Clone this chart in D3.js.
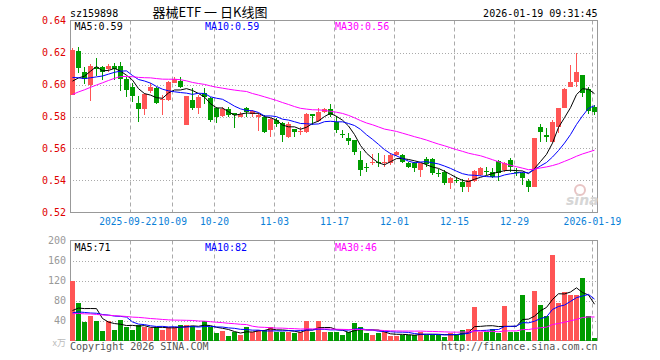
<!DOCTYPE html>
<html><head><meta charset="utf-8">
<script src="https://cdn.jsdelivr.net/npm/d3@7"></script>
<style>body{margin:0;background:#fff}svg{display:block}</style>
</head><body>
<svg id="c" width="660" height="360"></svg>
<script>
// ---------- data ----------
const dates = [
"2025-09-08","2025-09-09","2025-09-10","2025-09-11","2025-09-12","2025-09-15","2025-09-16","2025-09-17","2025-09-18","2025-09-19",
"2025-09-22","2025-09-23","2025-09-24","2025-09-25","2025-09-26","2025-09-29","2025-09-30","2025-10-09","2025-10-10","2025-10-13",
"2025-10-14","2025-10-15","2025-10-16","2025-10-17","2025-10-20","2025-10-21","2025-10-22","2025-10-23","2025-10-24","2025-10-27",
"2025-10-28","2025-10-29","2025-10-30","2025-10-31","2025-11-03","2025-11-04","2025-11-05","2025-11-06","2025-11-07","2025-11-10",
"2025-11-11","2025-11-12","2025-11-13","2025-11-14","2025-11-17","2025-11-18","2025-11-19","2025-11-20","2025-11-21","2025-11-24",
"2025-11-25","2025-11-26","2025-11-27","2025-11-28","2025-12-01","2025-12-02","2025-12-03","2025-12-04","2025-12-05","2025-12-08",
"2025-12-09","2025-12-10","2025-12-11","2025-12-12","2025-12-15","2025-12-16","2025-12-17","2025-12-18","2025-12-19","2025-12-22",
"2025-12-23","2025-12-24","2025-12-25","2025-12-26","2025-12-29","2025-12-30","2025-12-31","2026-01-05","2026-01-06","2026-01-07",
"2026-01-08","2026-01-09","2026-01-12","2026-01-13","2026-01-14","2026-01-15","2026-01-16","2026-01-19"];

const open = [0.5934,0.6209,0.6078,0.5997,0.6107,0.6107,0.6095,0.6116,0.6116,0.6032,
0.5982,0.5886,0.5849,0.5961,0.5981,0.5906,0.5905,0.6012,0.6022,0.5747,
0.5903,0.5851,0.5944,0.5914,0.5851,0.5803,0.5845,0.5820,0.5799,0.5855,
0.5816,0.5799,0.5799,0.5716,0.5778,0.5757,0.5672,0.5720,0.5703,0.5705,
0.5814,0.5774,0.5830,0.5845,0.5766,0.5689,0.5664,0.5655,0.5530,0.5482,
0.5514,0.5517,0.5514,0.5509,0.5562,0.5559,0.5511,0.5511,0.5466,0.5532,
0.5532,0.5447,0.5455,0.5386,0.5405,0.5392,0.5361,0.5399,0.5434,0.5461,
0.5455,0.5524,0.5466,0.5528,0.5451,0.5445,0.5399,0.5361,0.5736,0.5684,
0.5642,0.5732,0.5851,0.5986,0.6017,0.6059,0.5970,0.5857];

const close = [0.6216,0.6101,0.6034,0.6116,0.6095,0.6080,0.6116,0.6095,0.6032,0.5966,
0.5928,0.5849,0.5941,0.5984,0.5886,0.5909,0.6016,0.6034,0.5984,0.5928,
0.5851,0.5922,0.5922,0.5778,0.5797,0.5845,0.5809,0.5809,0.5816,0.5830,
0.5836,0.5809,0.5705,0.5782,0.5753,0.5684,0.5753,0.5705,0.5707,0.5814,
0.5803,0.5830,0.5845,0.5809,0.5717,0.5684,0.5649,0.5578,0.5466,0.5478,
0.5517,0.5514,0.5517,0.5561,0.5576,0.5517,0.5486,0.5476,0.5511,0.5503,
0.5445,0.5443,0.5386,0.5414,0.5401,0.5361,0.5403,0.5459,0.5476,0.5457,
0.5424,0.5445,0.5507,0.5486,0.5447,0.5414,0.5361,0.5666,0.5705,0.5670,
0.5767,0.5851,0.5970,0.6017,0.6080,0.5949,0.5836,0.5830];

const high = [0.6228,0.6236,0.6109,0.6126,0.6164,0.6116,0.6126,0.6136,0.6141,0.6049,
0.6008,0.5928,0.5947,0.6008,0.5986,0.5934,0.6022,0.6044,0.6049,0.5928,
0.5976,0.5934,0.5976,0.5924,0.5861,0.5858,0.5861,0.5822,0.5830,0.5861,
0.5841,0.5820,0.5809,0.5789,0.5789,0.5767,0.5766,0.5720,0.5734,0.5820,
0.5814,0.5851,0.5851,0.5878,0.5803,0.5716,0.5695,0.5655,0.5582,0.5507,
0.5564,0.5574,0.5559,0.5570,0.5582,0.5566,0.5517,0.5517,0.5511,0.5549,
0.5539,0.5470,0.5466,0.5420,0.5424,0.5407,0.5414,0.5466,0.5482,0.5482,
0.5476,0.5528,0.5517,0.5539,0.5476,0.5455,0.5407,0.5666,0.5753,0.5726,
0.5778,0.5851,0.5976,0.6122,0.6199,0.6059,0.5982,0.5872];

const low = [0.5934,0.6070,0.6003,0.5897,0.6055,0.6028,0.6080,0.6028,0.5961,0.5924,
0.5892,0.5766,0.5809,0.5949,0.5878,0.5809,0.5900,0.6009,0.5978,0.5747,
0.5841,0.5816,0.5878,0.5767,0.5761,0.5799,0.5795,0.5726,0.5795,0.5795,
0.5799,0.5709,0.5699,0.5674,0.5736,0.5642,0.5666,0.5674,0.5684,0.5699,
0.5747,0.5767,0.5824,0.5799,0.5695,0.5664,0.5622,0.5559,0.5428,0.5455,
0.5494,0.5486,0.5482,0.5497,0.5556,0.5511,0.5476,0.5455,0.5424,0.5486,
0.5434,0.5420,0.5372,0.5345,0.5382,0.5330,0.5330,0.5392,0.5428,0.5434,
0.5414,0.5397,0.5455,0.5455,0.5428,0.5372,0.5330,0.5357,0.5642,0.5642,
0.5642,0.5695,0.5851,0.5986,0.5986,0.5924,0.5816,0.5809];

// volume, 万手
const volume = [118.7,74.7,36.7,48.7,40,20,38.7,22,42,26.7,
22,31.3,26.7,24.7,26.7,22,26.7,26.7,32,31.3,
30,22,38.7,26.7,14.7,20,10,18,12,26.7,
18,22,22,28,16.7,16.7,16.7,14.7,16.7,40,
16.7,38.7,18,16.7,18,12,16.7,34.7,28,14.7,
12,14.7,16.7,8.7,10,11.3,11.3,11.3,16.7,11.3,
11.3,11.3,8,15.3,11.3,22,23.3,66.7,18,16.7,
23.3,14.7,68.7,18,16.7,92,18,98.7,72,50,
172,74.7,96.7,91.3,92,124.7,50,4.7];

// sessions before the visible window (estimated, only feed the moving averages)
const priorClose = [0.562,0.564,0.565,0.566,0.567,0.568,0.569,0.570,
0.595,0.597,0.598,0.600,0.601,0.602,0.602,0.603,0.603,
0.608,0.614,0.615,0.612,0.609,0.606,0.604,0.6025,0.600,0.598,0.596,0.5949];
const priorVolume = [48,62,55,70,50,58,45,66,52,60,48,57,62,50,54,52,
42,36,40,38,55,48,60,45,45,50,42,48,41];

const priceTicks = [0.52,0.54,0.56,0.58,0.60,0.62,0.64];
const volumeTicks = [40,80,120,160,200];
const tickDates = ["2025-09-22","2025-10-09","2025-10-20","2025-11-03","2025-11-17","2025-12-01","2025-12-15","2025-12-29","2026-01-19"];
const tickLabels = ["2025-09-22","10-09","10-20","11-03","11-17","12-01","12-15","12-29","2026-01-19"];
const priceMaLabels = ["MA5:0.59","MA10:0.59","MA30:0.56"];
const volumeMaLabels = ["MA5:71","MA10:82","MA30:46"];
const maPeriods = [5,10,30];

// ---------- drawing ----------
const L = 70, R = 597, PT = 20.5, PB = 212.5, VT = 240.5, VB = 340.5;
const RED = "#ff5555", GREEN = "#009c00";
const maColors = ["#000000","#0000ff","#ff00ff"];
const mono = "'DejaVu Sans Mono', monospace";

const svg = d3.select("#c");
const x = d3.scaleBand().domain(dates).range([L, R]).paddingInner(1/6).paddingOuter(0);
const y = d3.scaleLinear().domain([0.52, 0.64]).range([PB, PT]);
const yv = d3.scaleLinear().domain([0, 200]).range([VB, VT]);
const bw = x.bandwidth();
const cx = d => x(d) + bw / 2;

function movingAvg(prior, vals, n) {
  const all = prior.concat(vals), off = prior.length;
  return vals.map((_, i) => d3.mean(all.slice(off + i - n + 1, off + i + 1)));
}

// header texts
svg.append("text").attr("x", L).attr("y", 16.5).attr("font-family", mono).attr("font-size", 10)
  .attr("fill", "#000").text("sz159898");
svg.append("text").attr("x", 210).attr("y", 17).attr("text-anchor", "middle")
  .attr("font-family", "'Noto Sans CJK SC', sans-serif").attr("font-size", 13).attr("fill", "#000")
  .text("器械ETF 一 日K线图");
svg.append("text").attr("x", R + 0.5).attr("y", 16.5).attr("text-anchor", "end").attr("font-family", mono)
  .attr("font-size", 10).attr("fill", "#000").text("2026-01-19 09:31:45");

// grids
const grid = svg.append("g");
grid.selectAll("line.hp").data(priceTicks.slice(1, -1)).join("line")
  .attr("x1", L).attr("x2", R).attr("y1", d => Math.round(y(d)) + 0.5).attr("y2", d => Math.round(y(d)) + 0.5)
  .attr("stroke", "#aaa").attr("stroke-dasharray", "1,2");
grid.selectAll("line.hv").data(volumeTicks.slice(0, -1)).join("line").attr("class", "hv")
  .attr("x1", L).attr("x2", R).attr("y1", d => Math.round(yv(d)) + 0.5).attr("y2", d => Math.round(yv(d)) + 0.5)
  .attr("stroke", "#aaa").attr("stroke-dasharray", "1,2");
tickDates.forEach(d => {
  const xx = x(d) + 0.5;
  grid.append("line").attr("x1", xx).attr("x2", xx).attr("y1", PT).attr("y2", PB)
    .attr("stroke", "#aaa").attr("stroke-dasharray", "4,3");
  grid.append("line").attr("x1", xx).attr("x2", xx).attr("y1", VT).attr("y2", VB)
    .attr("stroke", "#aaa").attr("stroke-dasharray", "4,3");
});

// frames
svg.append("rect").attr("x", L + 0.5).attr("y", PT).attr("width", R - L).attr("height", PB - PT)
  .attr("fill", "none").attr("stroke", "#999");
svg.append("rect").attr("x", L + 0.5).attr("y", VT).attr("width", R - L).attr("height", VB - VT)
  .attr("fill", "none").attr("stroke", "#999");

// price axis labels
svg.append("g").selectAll("text").data(priceTicks).join("text")
  .attr("x", 66).attr("y", d => y(d) + 3.5).attr("text-anchor", "end")
  .attr("font-family", mono).attr("font-size", 10).attr("fill", "#e00000")
  .text(d => d3.format(".2f")(d));
// volume axis labels
svg.append("g").selectAll("text").data(volumeTicks).join("text")
  .attr("x", 66).attr("y", d => yv(d) + 3.5).attr("text-anchor", "end")
  .attr("font-family", mono).attr("font-size", 10).attr("fill", "#999")
  .text(d => d);
svg.append("text").attr("x", 66).attr("y", 346).attr("text-anchor", "end")
  .attr("font-family", "'Noto Sans CJK SC', sans-serif").attr("font-size", 9).attr("fill", "#bbb").text("x万");

// date labels (nudge left when touching the next label)
const dl = svg.append("g").selectAll("text").data(tickDates).join("text")
  .attr("x", d => x(d) + 0.5).attr("y", 225).attr("text-anchor", "middle")
  .attr("font-family", mono).attr("font-size", 9.6).attr("fill", "#0a7fd8")
  .text((d, i) => tickLabels[i]);
const nodes = dl.nodes();
for (let i = nodes.length - 2; i >= 0; i--) {
  const a = nodes[i].getBBox(), b = nodes[i + 1].getBBox();
  const over = a.x + a.width - b.x;
  if (over > -1) {
    const cur = +nodes[i].getAttribute("x");
    nodes[i].setAttribute("x", cur - over - 1);
  }
}

// sina watermark
const wm = svg.append("g");
wm.append("circle").attr("cx", 580).attr("cy", 190).attr("r", 5).attr("fill", "none")
  .attr("stroke", "#e8c4c4").attr("stroke-width", 2);
wm.append("text").attr("x", 566).attr("y", 205).attr("font-family", "'DejaVu Sans', sans-serif")
  .attr("font-style", "italic").attr("font-weight", "bold").attr("font-size", 14).attr("fill", "#d6d6d6").text("sina");

// candles
const idx = d3.range(dates.length);
const col = i => close[i] >= open[i] ? RED : GREEN;
const cg = svg.append("g");
cg.selectAll("line").data(idx).join("line")
  .attr("x1", i => Math.floor(cx(dates[i])) + 0.5).attr("x2", i => Math.floor(cx(dates[i])) + 0.5)
  .attr("y1", i => y(high[i])).attr("y2", i => y(low[i]))
  .attr("stroke", col).attr("shape-rendering", "crispEdges");
cg.selectAll("rect").data(idx).join("rect")
  .attr("x", i => x(dates[i])).attr("width", bw)
  .attr("y", i => y(Math.max(open[i], close[i])))
  .attr("height", i => Math.max(1, Math.abs(y(open[i]) - y(close[i]))))
  .attr("fill", col).attr("shape-rendering", "crispEdges");

// volume bars
svg.append("g").selectAll("rect").data(idx).join("rect")
  .attr("x", i => x(dates[i])).attr("width", bw)
  .attr("y", i => yv(volume[i])).attr("height", i => VB - yv(volume[i]))
  .attr("fill", col).attr("shape-rendering", "crispEdges");

// moving average lines
maPeriods.forEach((n, k) => {
  const pm = movingAvg(priorClose, close, n);
  svg.append("path").datum(idx)
    .attr("d", d3.line().x(i => cx(dates[i])).y(i => y(pm[i])))
    .attr("fill", "none").attr("stroke", maColors[k]).attr("stroke-width", 1);
  const vm = movingAvg(priorVolume, volume, n);
  svg.append("path").datum(idx)
    .attr("d", d3.line().x(i => cx(dates[i])).y(i => yv(vm[i])))
    .attr("fill", "none").attr("stroke", maColors[k]).attr("stroke-width", 1);
});

// MA legends
const legX = [74.5, 205, 335];
priceMaLabels.forEach((t, k) => svg.append("text").attr("x", legX[k]).attr("y", 30)
  .attr("font-family", mono).attr("font-size", 10).attr("fill", maColors[k]).text(t));
volumeMaLabels.forEach((t, k) => svg.append("text").attr("x", legX[k]).attr("y", 250.5)
  .attr("font-family", mono).attr("font-size", 10).attr("fill", maColors[k]).text(t));

// footer
svg.append("text").attr("x", L).attr("y", 350).attr("font-family", mono).attr("font-size", 10)
  .attr("fill", "#555").text("Copyright 2026 SINA.COM");
svg.append("text").attr("x", R + 0.5).attr("y", 350).attr("text-anchor", "end").attr("font-family", mono)
  .attr("font-size", 10).attr("fill", "#555").text("http://finance.sina.com.cn");
</script>
</body></html>
